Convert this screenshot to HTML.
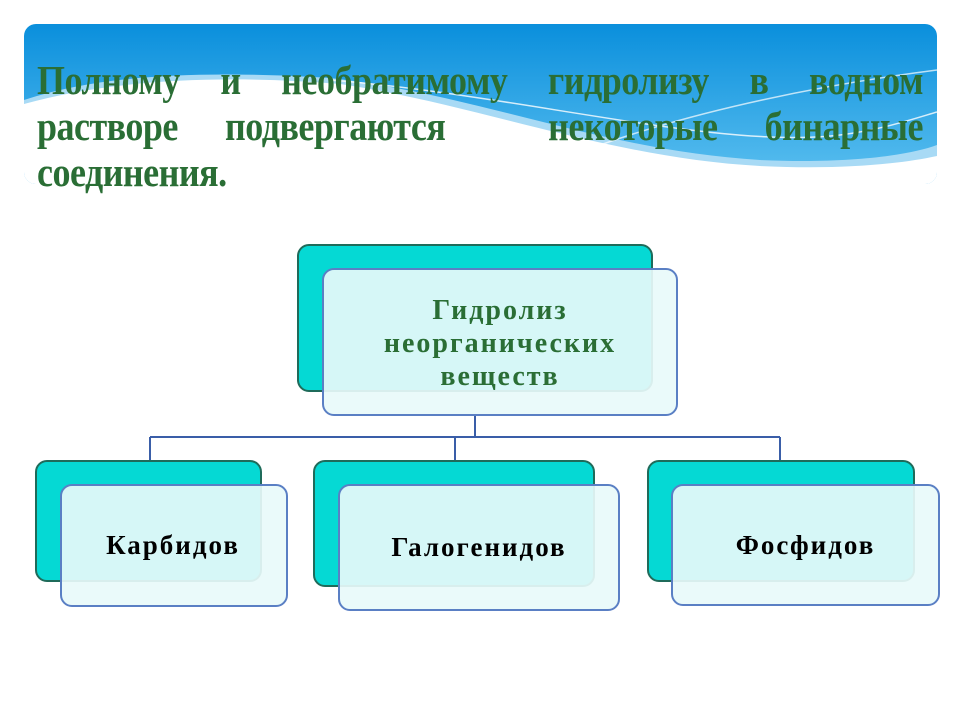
<!DOCTYPE html>
<html><head><meta charset="utf-8"><style>
body{margin:0;width:960px;height:720px;background:#fff;position:relative;overflow:hidden;font-family:"Liberation Serif",serif}
.l{position:absolute;left:37px;width:886px;display:flex;justify-content:space-between;color:#2a6e35;font-weight:bold;font-size:36px;line-height:36px;letter-spacing:-0.5px;transform:scaleY(1.15)}
.b{position:absolute;border-radius:12px;box-sizing:border-box}
.bk{background:#05d9d4;border:2px solid #1f6b5a}
.fr{background:rgba(232,250,250,0.92);border:2px solid #5a7fc4;display:flex;align-items:center;justify-content:center;text-align:center;font-weight:bold;font-size:27px;letter-spacing:2px}
</style></head><body>
<svg width="960" height="720" style="position:absolute;left:0;top:0">
<defs><linearGradient id="g" x1="0" y1="0" x2="0" y2="1"><stop offset="0" stop-color="#0a8fdc"/><stop offset="1" stop-color="#5cc0f0"/></linearGradient>
<clipPath id="c"><rect x="24" y="24" width="913" height="160" rx="12"/></clipPath></defs>
<g clip-path="url(#c)">
<rect x="24" y="24" width="913" height="160" fill="url(#g)"/>
<path d="M24 100 C100 75 200 70 330 78 C480 95 600 150 760 160 C850 164 910 155 937 145 L937 184 L24 184Z" fill="#a8daf5"/>
<path d="M24 104 C110 80 220 74 340 84 C480 105 610 158 760 166 C840 170 900 164 937 156 L937 184 L24 184Z" fill="#fff"/>
<path d="M330 80 C520 95 720 150 840 135 C880 130 910 120 937 112" stroke="#fff" stroke-width="1.5" fill="none" opacity=".8"/>
<path d="M600 145 C700 110 820 85 937 70" stroke="#fff" stroke-width="1.5" fill="none" opacity=".7"/>
</g>
<g stroke="#3a5ea8" stroke-width="2" fill="none">
<path d="M475 416V437M150 437H780M150 437V460M455 437V460M780 437V460"/>
</g>
</svg>
<div class="l" style="top:62px">
<span>Полному</span><span>и</span><span>необратимому</span><span>гидролизу</span><span>в</span><span>водном</span></div>
<div class="l" style="top:108px">
<span>растворе</span><span>подвергаются</span><span>&nbsp;</span><span>некоторые</span><span>бинарные</span></div>
<div class="l" style="top:154px"><span>соединения.</span></div>

<div class="b bk" style="left:297px;top:244px;width:356px;height:148px"></div>
<div class="b fr" style="left:322px;top:268px;width:356px;height:148px;color:#2a6e35;font-size:28px;line-height:33px;padding-top:2px">Гидролиз<br>неорганических<br>веществ</div>

<div class="b bk" style="left:35px;top:460px;width:227px;height:122px"></div>
<div class="b fr" style="left:60px;top:484px;width:228px;height:123px;padding-right:2px">Карбидов</div>

<div class="b bk" style="left:313px;top:460px;width:282px;height:127px"></div>
<div class="b fr" style="left:338px;top:484px;width:282px;height:127px">Галогенидов</div>

<div class="b bk" style="left:647px;top:460px;width:268px;height:122px"></div>
<div class="b fr" style="left:671px;top:484px;width:269px;height:122px;padding-right:0">Фосфидов</div>
</body></html>
